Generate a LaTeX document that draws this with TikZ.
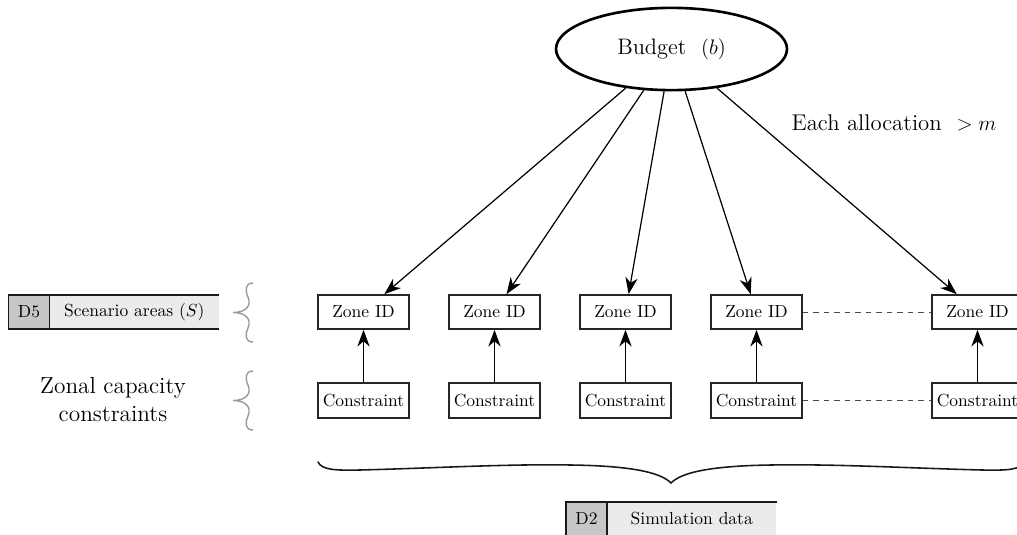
\documentclass[tikz,border=0pt]{standalone}
\usetikzlibrary{arrows.meta,shapes.geometric}
\begin{document}
\begin{tikzpicture}[x=0.57143pt, y=-0.57143pt,
  zone/.style={draw=black!85, line width=1pt, minimum width=52pt,
    minimum height=19.4pt, inner sep=0pt},
  link/.style={line width=0.7pt, -{Stealth[length=9.5pt,width=7pt,inset=3pt]}},
  feed/.style={line width=0.85pt, -{Stealth[length=9.5pt,width=7pt,inset=3pt]}},
  gap/.style={dashed, line width=0.55pt, black!70},
  storeid/.style={fill=black!22, minimum width=22.9pt, minimum height=19.4pt, inner sep=0pt},
  storename/.style={fill=black!8, minimum width=96.6pt, minimum height=19.4pt,
    inner sep=0pt, anchor=west},
  storeedge/.style={line width=1pt, black!90},
  sidebrace/.style={draw=black!40, line width=0.8pt},
  bigbrace/.style={draw=black!90, line width=0.9pt, line cap=round}]
\useasboundingbox (0,0) rectangle (1017,535);

% budget source
\node[ellipse, draw, line width=1.5pt, minimum width=132pt, minimum height=47pt,
  font=\fontsize{12.8}{15}\selectfont] (budget) at (671.5,49) {Budget\ \ $(b)$};
\node[font=\fontsize{13}{16}\selectfont] (note) at (894,123) {Each allocation\ \ $>m$};

% zones and their capacity constraints
\foreach \i/\x in {1/363.5, 2/494.5, 3/625.5, 4/756.5, 5/977.5} {
  \node[zone] (z\i) at (\x,312) {Zone ID};
  \node[zone, minimum height=20pt] (c\i) at (\x,400.5) {Constraint};
  \draw[link] (budget) -- (z\i);
  \draw[feed] (c\i) -- (z\i);
}
\draw[gap] (z4) -- (z5);
\draw[gap] (c4) -- (c5);

% data store D5
\node[storeid] (d5id) at (29,312) {D5};
\node[storename] (d5name) at (d5id.east) {Scenario areas~$(S)$};
\draw[storeedge] (d5name.north east) -- (d5id.north west) -- (d5id.south west) -- (d5name.south east);
\draw[storeedge] (d5id.north east) -- (d5id.south east);

% row label
\node[font=\fontsize{13.3}{16}\selectfont, align=center] (caplabel) at (113,400) {Zonal capacity\\constraints};

% side braces
\foreach \t/\b in {283/342, 371/430} {
  \pgfmathsetmacro{\m}{(\t+\b)/2}
  \draw[sidebrace] (253,\t) .. controls (245,\t) and (245,\t+7) .. (248,\t+14)
    .. controls (252,\m-6) and (245,\m) .. (233,\m)
    .. controls (245,\m) and (252,\m+6) .. (248,\b-14)
    .. controls (245,\b-7) and (245,\b) .. (253,\b);
}

% brace under the zones
\coordinate (braceL) at (318,462);
\coordinate (braceR) at (1024,462);
\coordinate (braceTip) at (671,483);
\draw[bigbrace] (braceL) .. controls (322,470) and (335,470.5) .. (360,470)
  .. controls (440,468) and (520,463) .. (590,465.5)
  .. controls (640,467.5) and (662,474) .. (braceTip)
  .. controls (680,474) and (702,467.5) .. (752,465.5)
  .. controls (822,463) and (902,468) .. (982,470)
  .. controls (1007,470.5) and (1020,470) .. (braceR);

% data store D2
\node[storeid] (d2id) at (586.5,519) {D2};
\node[storename] (d2name) at (d2id.east) {Simulation data};
\draw[storeedge] (d2name.north east) -- (d2id.north west) -- (d2id.south west) -- (d2name.south east);
\draw[storeedge] (d2id.north east) -- (d2id.south east);
\end{tikzpicture}
\end{document}
